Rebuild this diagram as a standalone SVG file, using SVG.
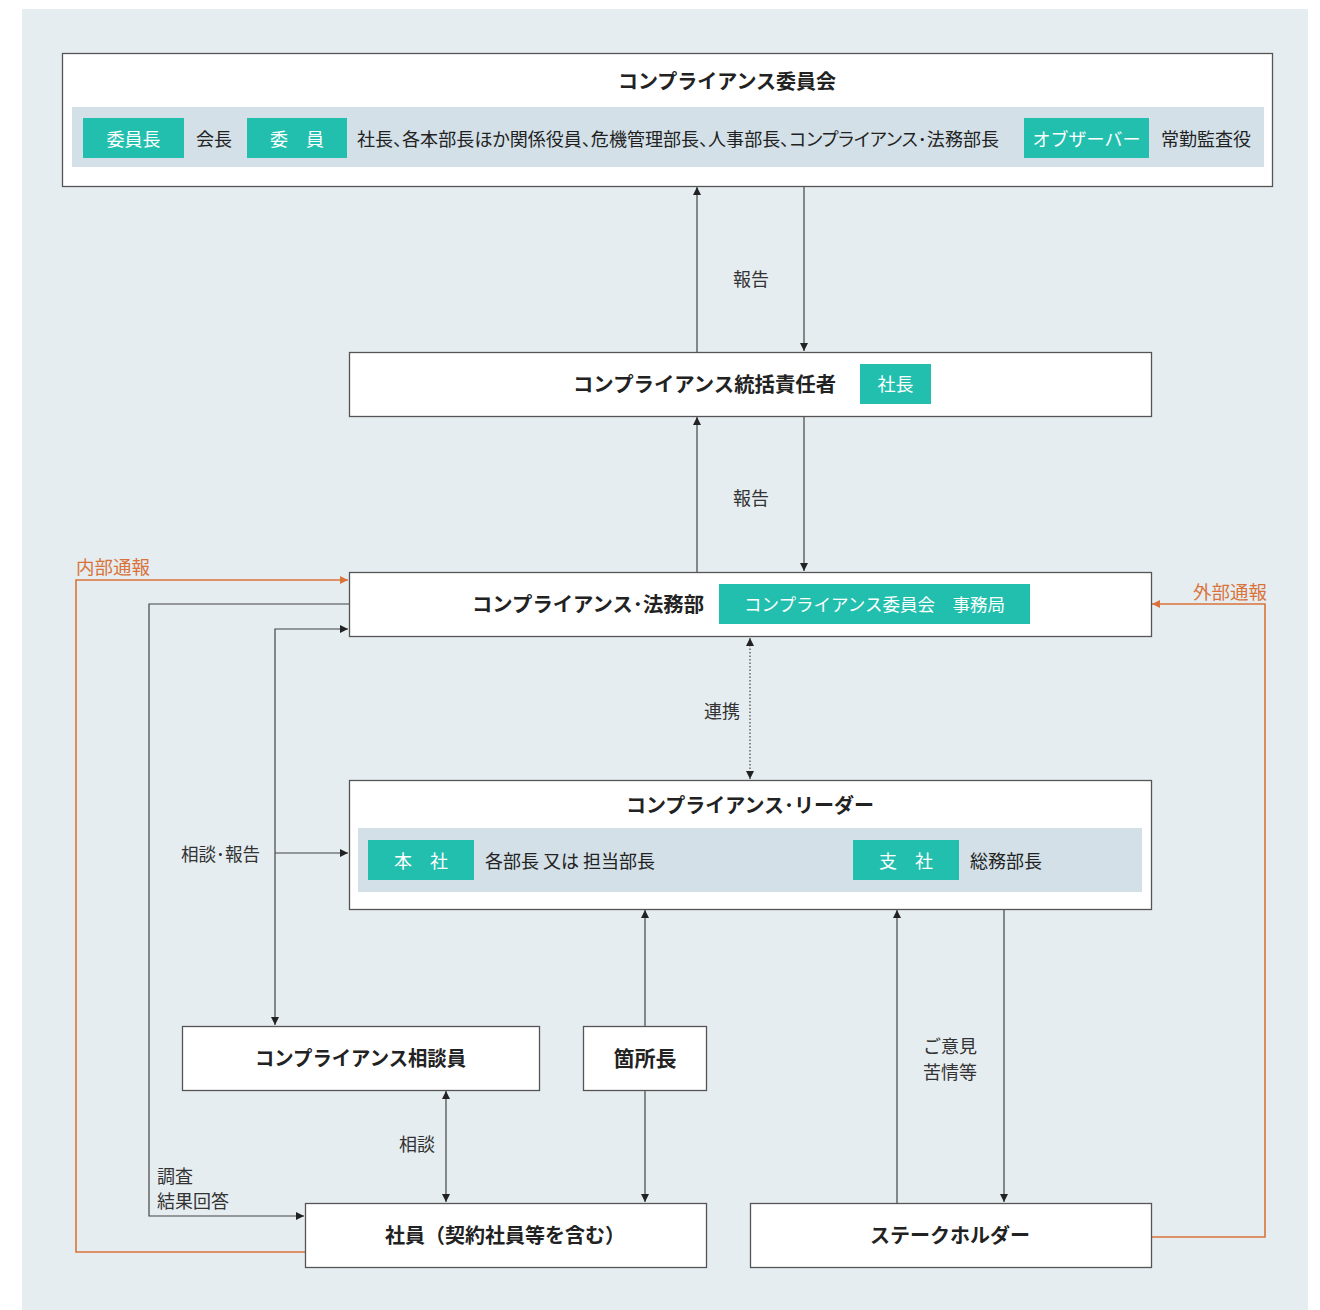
<svg xmlns="http://www.w3.org/2000/svg" width="1320" height="1310" viewBox="0 0 1320 1310">
<style>
text{font-family:"Noto Sans CJK JP","Noto Sans",sans-serif;fill:#222}
.title{font-size:20px;font-weight:700;}
.body{font-size:18px;}
.lab{font-size:18px;fill:#333;}
.tagt{font-size:18px;fill:#fff;}
.orl{font-size:18.5px;fill:#d9733a;}
.box{fill:#fff;stroke:#555;stroke-width:1.3}
.band{fill:#d3e0e7}
.tag{fill:#22bfae}
.ln{fill:none;stroke:#444;stroke-width:1.2}
.or{fill:none;stroke:#d9733a;stroke-width:1.6}
</style>
<defs>
<marker id="ah" viewBox="0 0 10 10" refX="10" refY="5" markerWidth="9" markerHeight="8" markerUnits="userSpaceOnUse" orient="auto-start-reverse"><path d="M0,0 L10,5 L0,10 z" fill="#222"/></marker>
<marker id="ao" viewBox="0 0 10 10" refX="10" refY="5" markerWidth="9" markerHeight="8" markerUnits="userSpaceOnUse" orient="auto"><path d="M0,0 L10,5 L0,10 z" fill="#d9733a"/></marker>
</defs>
<rect x="0" y="0" width="1320" height="1310" fill="#fff"/>
<rect x="22" y="9" width="1286" height="1301" fill="#e5edf1"/>

<g id="connectors">
<line class="ln" x1="697" y1="352" x2="697" y2="187" marker-end="url(#ah)"/>
<line class="ln" x1="804" y1="187" x2="804" y2="351" marker-end="url(#ah)"/>
<line class="ln" x1="697" y1="572" x2="697" y2="417" marker-end="url(#ah)"/>
<line class="ln" x1="804" y1="417" x2="804" y2="571" marker-end="url(#ah)"/>
<line class="ln" x1="750" y1="638" x2="750" y2="779" stroke-dasharray="1.5 2" marker-start="url(#ah)" marker-end="url(#ah)"/>
<polyline class="ln" points="349,604 149,604 149,1216 304,1216" marker-end="url(#ah)"/>
<polyline class="ln" points="348,629 275,629 275,1025" marker-start="url(#ah)" marker-end="url(#ah)"/>
<line class="ln" x1="275" y1="853" x2="348" y2="853" marker-end="url(#ah)"/>
<line class="ln" x1="645" y1="1026" x2="645" y2="910" marker-end="url(#ah)"/>
<line class="ln" x1="645" y1="1090" x2="645" y2="1202" marker-end="url(#ah)"/>
<line class="ln" x1="446" y1="1091" x2="446" y2="1202" marker-start="url(#ah)" marker-end="url(#ah)"/>
<line class="ln" x1="897" y1="1203" x2="897" y2="910" marker-end="url(#ah)"/>
<line class="ln" x1="1004" y1="909" x2="1004" y2="1202" marker-end="url(#ah)"/>
<polyline class="or" points="305,1252 76,1252 76,580 348,580" marker-end="url(#ao)"/>
<polyline class="or" points="1151,1237 1265,1237 1265,604 1152,604" marker-end="url(#ao)"/>
<text class="lab" x="751" y="278" text-anchor="middle" dominant-baseline="central">報告</text>
<text class="lab" x="751" y="497" text-anchor="middle" dominant-baseline="central">報告</text>
<text class="lab" x="722" y="710" text-anchor="middle" dominant-baseline="central">連携</text>
<text class="lab" x="181" y="853" dominant-baseline="central" textLength="79" lengthAdjust="spacingAndGlyphs">相談･報告</text>
<text class="lab" x="399" y="1143" dominant-baseline="central">相談</text>
<text class="lab" x="157" y="1175" dominant-baseline="central">調査</text>
<text class="lab" x="157" y="1200" dominant-baseline="central">結果回答</text>
<text class="lab" x="923" y="1045" dominant-baseline="central">ご意見</text>
<text class="lab" x="923" y="1071" dominant-baseline="central">苦情等</text>
<text class="orl" x="76" y="566" dominant-baseline="central">内部通報</text>
<text class="orl" x="1267" y="591" text-anchor="end" dominant-baseline="central">外部通報</text>
</g>

<g id="committee">
<rect class="box" x="62.5" y="53.5" width="1210" height="133"/>
<text class="title" x="727" y="80" text-anchor="middle" dominant-baseline="central">コンプライアンス委員会</text>
<rect class="band" x="72" y="107" width="1192" height="60"/>
<rect class="tag" x="83" y="118" width="101" height="40"/>
<text class="tagt" x="133.5" y="138" text-anchor="middle" dominant-baseline="central">委員長</text>
<text class="body" x="196" y="138" dominant-baseline="central">会長</text>
<rect class="tag" x="247" y="118" width="100" height="40"/>
<text class="tagt" x="297" y="138" text-anchor="middle" dominant-baseline="central">委　員</text>
<text class="body" x="357" y="138" dominant-baseline="central" textLength="642" lengthAdjust="spacingAndGlyphs" style="font-feature-settings:'palt'">社長、各本部長ほか関係役員、危機管理部長、人事部長、コンプライアンス･法務部長</text>
<rect class="tag" x="1024" y="118" width="125" height="40"/>
<text class="tagt" x="1086.5" y="138" text-anchor="middle" dominant-baseline="central">オブザーバー</text>
<text class="body" x="1161" y="138" dominant-baseline="central">常勤監査役</text>
</g>

<g id="supervisor">
<rect class="box" x="349.5" y="352.5" width="802" height="64"/>
<text class="title" x="573" y="383" dominant-baseline="central" textLength="263" lengthAdjust="spacingAndGlyphs">コンプライアンス統括責任者</text>
<rect class="tag" x="860" y="364" width="71" height="40"/>
<text class="tagt" x="895.5" y="383" text-anchor="middle" dominant-baseline="central">社長</text>
</g>

<g id="legal">
<rect class="box" x="349.5" y="572.5" width="802" height="64"/>
<text class="title" x="472" y="603" dominant-baseline="central" textLength="232" lengthAdjust="spacingAndGlyphs">コンプライアンス･法務部</text>
<rect class="tag" x="719" y="584" width="311" height="40"/>
<text class="tagt" x="874.5" y="603" text-anchor="middle" dominant-baseline="central" style="font-size:17.5px">コンプライアンス委員会　事務局</text>
</g>

<g id="leader">
<rect class="box" x="349.5" y="780.5" width="802" height="129"/>
<text class="title" x="750" y="804" text-anchor="middle" dominant-baseline="central">コンプライアンス･リーダー</text>
<rect class="band" x="358" y="828" width="784" height="64"/>
<rect class="tag" x="368" y="840" width="106" height="40"/>
<text class="tagt" x="421" y="860" text-anchor="middle" dominant-baseline="central">本　社</text>
<text class="body" x="485" y="860" dominant-baseline="central">各部長 又は 担当部長</text>
<rect class="tag" x="853" y="840" width="106" height="40"/>
<text class="tagt" x="906" y="860" text-anchor="middle" dominant-baseline="central">支　社</text>
<text class="body" x="970" y="860" dominant-baseline="central">総務部長</text>
</g>

<g id="counselor">
<rect class="box" x="182.5" y="1026.5" width="357" height="64"/>
<text class="title" x="255" y="1057" dominant-baseline="central" textLength="211" lengthAdjust="spacingAndGlyphs">コンプライアンス相談員</text>
</g>

<g id="site-head">
<rect class="box" x="583.5" y="1026.5" width="123" height="64"/>
<text class="title" x="645" y="1057" text-anchor="middle" dominant-baseline="central" style="font-size:21px">箇所長</text>
</g>

<g id="employee">
<rect class="box" x="305.5" y="1203.5" width="401" height="64"/>
<text class="title" x="505" y="1234" text-anchor="middle" dominant-baseline="central">社員（契約社員等を含む）</text>
</g>

<g id="stakeholder">
<rect class="box" x="750.5" y="1203.5" width="401" height="64"/>
<text class="title" x="950" y="1234" text-anchor="middle" dominant-baseline="central">ステークホルダー</text>
</g>
</svg>
